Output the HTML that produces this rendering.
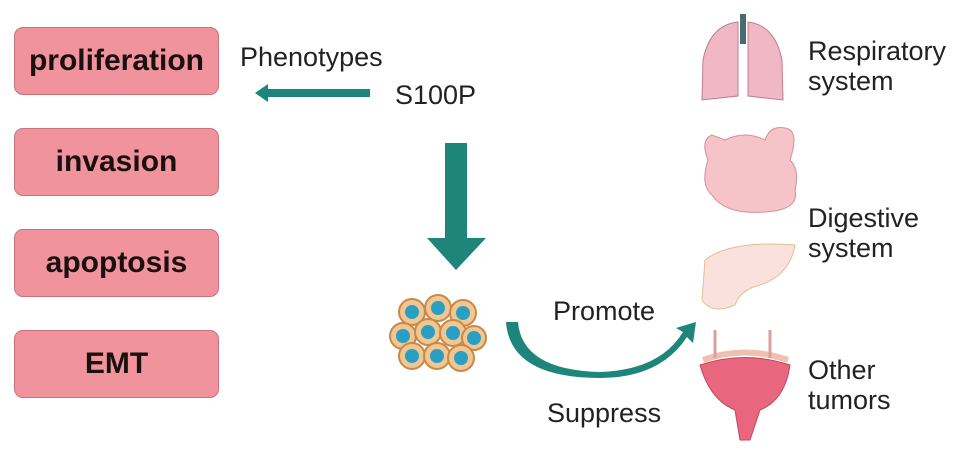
<!DOCTYPE html>
<html><head><meta charset="utf-8"><style>
body{margin:0;width:969px;height:454px;background:#fff;position:relative;overflow:hidden;font-family:"Liberation Sans",sans-serif;}
.b{position:absolute;left:14px;width:203px;height:66px;background:#f0939c;border:1.5px solid #c7737c;border-radius:9px;display:flex;align-items:center;justify-content:center;font-weight:bold;font-size:30px;color:#1a1010;font-family:"Liberation Sans Narrow","Liberation Sans",sans-serif;}
.t{position:absolute;font-size:27px;color:#222;line-height:30px;}
</style></head><body>
<div class="b" style="top:27px">proliferation</div>
<div class="b" style="top:128px">invasion</div>
<div class="b" style="top:229px">apoptosis</div>
<div class="b" style="top:330px">EMT</div>
<div class="t" style="left:240px;top:42px">Phenotypes</div>
<div class="t" style="left:395px;top:80px">S100P</div>
<div class="t" style="left:553px;top:296px">Promote</div>
<div class="t" style="left:547px;top:398px">Suppress</div>
<div class="t" style="left:808px;top:36px">Respiratory<br>system</div>
<div class="t" style="left:808px;top:203px">Digestive<br>system</div>
<div class="t" style="left:808px;top:355px">Other<br>tumors</div>
<svg width="969" height="454" style="position:absolute;left:0;top:0">
<g fill="#1e857a">
<polygon points="370,89 268,89 268,84 255,93 268,102 268,97 370,97"/>
<polygon points="445,143 467,143 467,238 486,238 456,270 427,238 445,238"/>
<path d="M518,322 Q522,370 600,372 Q660,370 683,332 L676,328 L696,322 L693,343 L687,337 Q660,378 600,378 Q510,378 506,322 Z"/>
</g>
<g stroke="#c58a4a" stroke-width="2" fill="#f2c690">
<circle cx="412" cy="312" r="13"/><circle cx="438" cy="308" r="13"/><circle cx="463" cy="313" r="13"/>
<circle cx="403" cy="336" r="13"/><circle cx="428" cy="332" r="13"/><circle cx="453" cy="333" r="13"/><circle cx="474" cy="338" r="12"/>
<circle cx="412" cy="356" r="13"/><circle cx="437" cy="356" r="13"/><circle cx="461" cy="358" r="13"/>
</g>
<g fill="#2a9fc4">
<circle cx="412" cy="312" r="7"/><circle cx="438" cy="308" r="7"/><circle cx="463" cy="313" r="7"/>
<circle cx="403" cy="336" r="7"/><circle cx="428" cy="332" r="7"/><circle cx="453" cy="333" r="7"/><circle cx="474" cy="338" r="7"/>
<circle cx="412" cy="356" r="7"/><circle cx="437" cy="356" r="7"/><circle cx="461" cy="358" r="7"/>
</g>
<rect x="740" y="14" width="6" height="30" fill="#4a6a70"/>
<path d="M738,22 Q710,25 703,60 L702,100 L738,96 Z" fill="#f0b8c4" stroke="#b88090"/>
<path d="M748,22 Q775,25 782,60 L783,100 L748,96 Z" fill="#f0b8c4" stroke="#b88090"/>
<path d="M712,135 Q700,140 708,160 Q700,185 712,195 Q725,215 765,212 Q800,210 795,190 Q800,170 790,160 Q800,130 785,128 Q770,125 765,140 Q745,130 725,140 Z" fill="#f6c3c8" stroke="#d49098"/>
<path d="M705,260 Q730,240 795,245 Q790,275 760,285 Q740,290 735,305 Q712,315 702,300 Z" fill="#fbe1dd" stroke="#e0c090"/>
<path d="M700,365 Q745,350 790,365 Q785,400 760,410 L750,440 L740,440 L735,410 Q710,400 700,365 Z" fill="#e8677e" stroke="#c04860"/>
<path d="M703,360 Q745,345 788,360" stroke="#eec0b0" stroke-width="6" fill="none"/>
<line x1="715" y1="330" x2="715" y2="358" stroke="#d8a0a0" stroke-width="3"/>
<line x1="770" y1="330" x2="770" y2="358" stroke="#d8a0a0" stroke-width="3"/>
</svg>
</body></html>
